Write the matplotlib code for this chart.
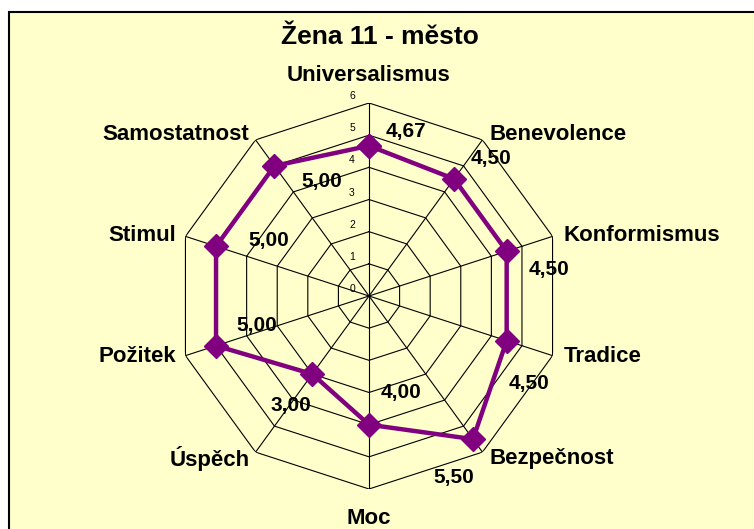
import numpy as np
import matplotlib
matplotlib.use("Agg")
import matplotlib.pyplot as plt
from matplotlib.patches import Rectangle

categories = ["Universalismus", "Benevolence", "Konformismus", "Tradice", "Bezpečnost",
              "Moc", "Úspěch", "Požitek", "Stimul", "Samostatnost"]
values = [4.67, 4.50, 4.50, 4.50, 5.50, 4.00, 3.00, 5.00, 5.00, 5.00]
value_labels = ["4,67", "4,50", "4,50", "4,50", "5,50", "4,00", "3,00", "5,00", "5,00", "5,00"]
rticks = [0, 1, 2, 3, 4, 5, 6]
title = "Žena 11 - město"

# label offsets in pixels (dx right, dy up)
val_off = [(37, 14), (37, 20), (42, -18), (22, -43), (-19, -38),
           (32, 32), (-21, -31), (41, 20), (53, 6), (47, -16)]
cat_off = [(0, 28, "center"), (7, 5, "left"), (11, 1, "left"), (11, -1, "left"), (7, -6, "left"),
           (0, -29, "center"), (-6, -6, "right"), (-9, -1, "right"), (-9, 1, "right"), (-6, 5, "right")]

plt.rcParams['font.family'] = ['Liberation Sans', 'DejaVu Sans']

W, H = 754, 529
fig = plt.figure(figsize=(W / 100, H / 100), dpi=100)
fig.patch.set_facecolor("white")
fig.patches.append(Rectangle((8.5 / W, -0.1), 1.2, 1.1 - 11.5 / H, transform=fig.transFigure,
                             facecolor="#FFFFCC", edgecolor="black", linewidth=1.5, zorder=-5))

cx, cy, R = 369, 296, 193
ax = fig.add_axes([(cx - R) / W, (H - cy - R) / H, 2 * R / W, 2 * R / H], projection="polar")
ax.set_facecolor("none")
ax.set_theta_zero_location("N")
ax.set_theta_direction(-1)
ax.set_ylim(0, 6)
ax.grid(False)
ax.spines["polar"].set_visible(False)
ax.set_xticks([])
ax.set_yticks([])

n = len(categories)
theta = np.arange(n) * 2 * np.pi / n
theta_c = np.append(theta, theta[0])

for r in rticks[1:]:
    ax.plot(theta_c, [r] * (n + 1), color="black", lw=0.8, zorder=1)
for t in theta:
    ax.plot([t, t], [0, rticks[-1]], color="black", lw=0.8, zorder=1)

for r in rticks:
    ax.annotate(str(r), xy=(0, r), xytext=(-17, 7), textcoords="offset pixels",
                ha="center", va="center", fontsize=7.5, color="black", zorder=3)

vals_c = np.append(values, values[0])
ax.plot(theta_c, vals_c, color="#800080", lw=3.2, marker="D", markersize=12,
        markerfacecolor="#800080", markeredgecolor="#800080", zorder=4, clip_on=False)

for t, v, lab, (dx, dy) in zip(theta, values, value_labels, val_off):
    ax.annotate(lab, xy=(t, v), xytext=(dx, dy), textcoords="offset pixels",
                ha="center", va="center", fontsize=15, fontweight="bold", zorder=5)

for t, lab, (dx, dy, ha) in zip(theta, categories, cat_off):
    ax.annotate(lab, xy=(t, rticks[-1]), xytext=(dx, dy), textcoords="offset pixels",
                ha=ha, va="center", fontsize=16, fontweight="bold", zorder=5,
                annotation_clip=False)

fig.text(380 / W, 1 - 37 / H, title, ha="center", va="center", fontsize=19, fontweight="bold")

fig.savefig("out.png", dpi=100)
